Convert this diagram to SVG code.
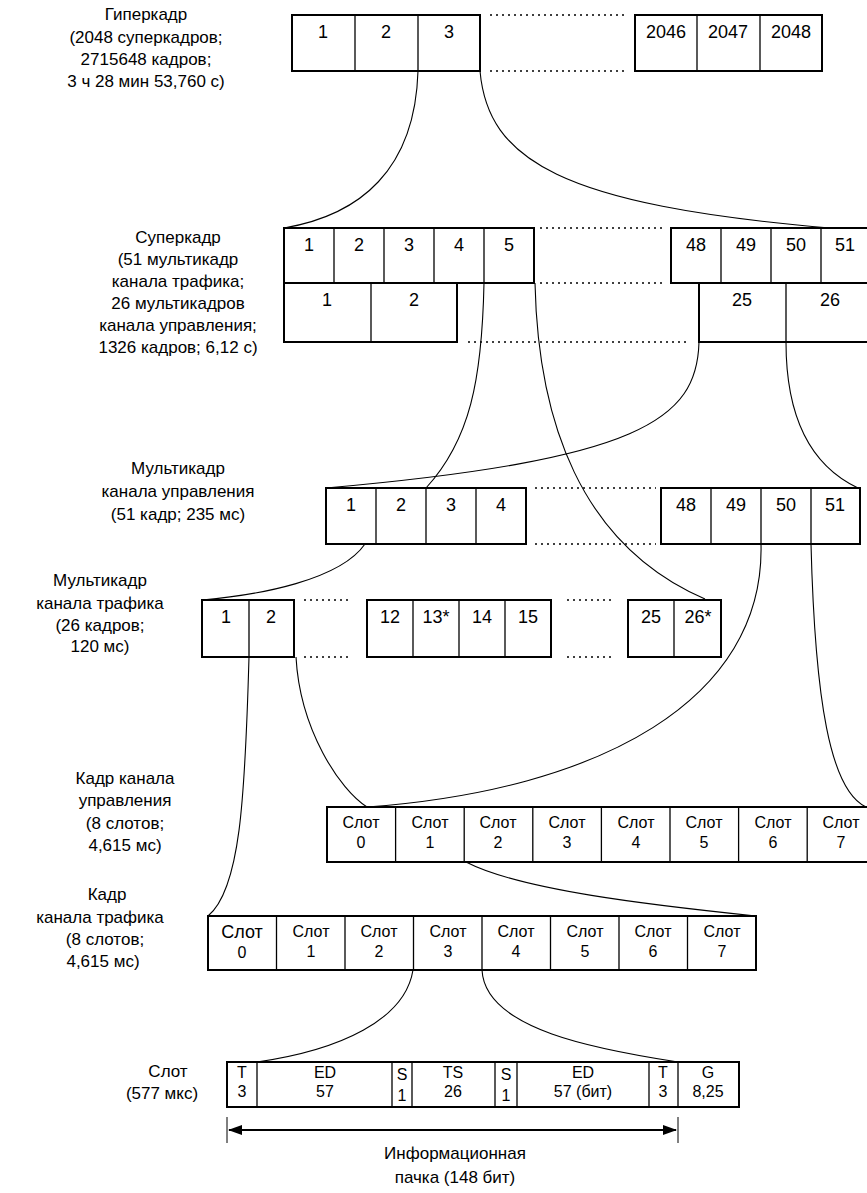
<svg xmlns="http://www.w3.org/2000/svg" width="867" height="1193" viewBox="0 0 867 1193">
<style>
text{font-family:"Liberation Sans",Arial,sans-serif;fill:#000}
.lbl{font-size:17px;text-anchor:middle}
.num{font-size:18px;text-anchor:middle}
.sl{font-size:16px;text-anchor:middle}
.box{fill:#fff;stroke:#000;stroke-width:2}
.div{stroke:#000;stroke-width:1.3}
.dot{stroke:#000;stroke-width:1.5;stroke-dasharray:2 4;fill:none}
.cv{fill:none;stroke:#000;stroke-width:1.1}
</style>
<defs>
<marker id="ah" markerWidth="14" markerHeight="10" refX="13" refY="5" orient="auto-start-reverse" markerUnits="userSpaceOnUse">
<path d="M0,0 L14,5 L0,10 Z" fill="#000"/>
</marker>
</defs>
<rect width="867" height="1193" fill="#fff"/>

<g id="connectors">
<path class="cv" d="M418,71 C415,170 360,215 284,228"/>
<path class="cv" d="M480,71 C488,160 560,205 830,228"/>
<path class="cv" d="M484,283 C482,380 470,440 426,488"/>
<path class="cv" d="M535,283 C538,420 580,545 705,599"/>
<path class="cv" d="M699,342 C697,420 640,460 326,488"/>
<path class="cv" d="M786,342 C786,430 820,470 858,488"/>
<path class="cv" d="M365,544 C340,580 260,595 202,600"/>
<path class="cv" d="M761,544 C765,700 600,790 367,807"/>
<path class="cv" d="M811,544 C815,700 830,790 866,807"/>
<path class="cv" d="M296,657 C300,730 340,790 367,807"/>
<path class="cv" d="M249,657 C245,800 240,890 208,916"/>
<path class="cv" d="M466,862 C520,890 650,905 756,916"/>
<path class="cv" d="M413,970 C405,1020 340,1050 257,1062"/>
<path class="cv" d="M482,970 C485,1030 600,1050 678,1062"/>
</g>

<g id="hyperframe">
<text class="lbl" x="146" y="20">Гиперкадр</text>
<text class="lbl" x="146" y="43">(2048 суперкадров;</text>
<text class="lbl" x="146" y="65">2715648 кадров;</text>
<text class="lbl" x="146" y="87">3 ч 28 мин 53,760 с)</text>
<rect class="box" x="292" y="15" width="188" height="56"/>
<line class="div" x1="355" y1="15" x2="355" y2="71"/>
<line class="div" x1="418" y1="15" x2="418" y2="71"/>
<text class="num" x="323" y="38">1</text>
<text class="num" x="386" y="38">2</text>
<text class="num" x="449" y="38">3</text>
<line class="dot" x1="490" y1="15" x2="628" y2="15"/>
<line class="dot" x1="490" y1="71" x2="628" y2="71"/>
<rect class="box" x="635" y="15" width="187" height="56"/>
<line class="div" x1="697" y1="15" x2="697" y2="71"/>
<line class="div" x1="760" y1="15" x2="760" y2="71"/>
<text class="num" x="666" y="38">2046</text>
<text class="num" x="728" y="38">2047</text>
<text class="num" x="791" y="38">2048</text>
</g>

<g id="superframe">
<text class="lbl" x="178" y="243">Суперкадр</text>
<text class="lbl" x="178" y="265">(51 мультикадр</text>
<text class="lbl" x="178" y="287">канала трафика;</text>
<text class="lbl" x="178" y="309">26 мультикадров</text>
<text class="lbl" x="178" y="331">канала управления;</text>
<text class="lbl" x="178" y="353">1326 кадров; 6,12 с)</text>
<rect class="box" x="284" y="228" width="250" height="55"/>
<line class="div" x1="334" y1="228" x2="334" y2="283"/>
<line class="div" x1="384" y1="228" x2="384" y2="283"/>
<line class="div" x1="434" y1="228" x2="434" y2="283"/>
<line class="div" x1="484" y1="228" x2="484" y2="283"/>
<text class="num" x="309" y="251">1</text>
<text class="num" x="359" y="251">2</text>
<text class="num" x="409" y="251">3</text>
<text class="num" x="459" y="251">4</text>
<text class="num" x="509" y="251">5</text>
<rect class="box" x="671" y="228" width="210" height="55"/>
<line class="div" x1="721" y1="228" x2="721" y2="283"/>
<line class="div" x1="771" y1="228" x2="771" y2="283"/>
<line class="div" x1="821" y1="228" x2="821" y2="283"/>
<text class="num" x="696" y="251">48</text>
<text class="num" x="746" y="251">49</text>
<text class="num" x="796" y="251">50</text>
<text class="num" x="845" y="251">51</text>
<rect class="box" x="284" y="283" width="173" height="59"/>
<line class="div" x1="371" y1="283" x2="371" y2="342"/>
<text class="num" x="327" y="306">1</text>
<text class="num" x="414" y="306">2</text>
<rect class="box" x="699" y="283" width="182" height="59"/>
<line class="div" x1="786" y1="283" x2="786" y2="342"/>
<text class="num" x="742" y="306">25</text>
<text class="num" x="830" y="306">26</text>
<line class="dot" x1="540" y1="228" x2="662" y2="228"/>
<line class="dot" x1="540" y1="283" x2="662" y2="283"/>
<line class="dot" x1="468" y1="342" x2="690" y2="342"/>
</g>

<g id="control-multiframe">
<text class="lbl" x="178" y="474">Мультикадр</text>
<text class="lbl" x="178" y="497">канала управления</text>
<text class="lbl" x="178" y="520">(51 кадр; 235 мс)</text>
<rect class="box" x="326" y="488" width="200" height="56"/>
<line class="div" x1="376" y1="488" x2="376" y2="544"/>
<line class="div" x1="426" y1="488" x2="426" y2="544"/>
<line class="div" x1="476" y1="488" x2="476" y2="544"/>
<text class="num" x="351" y="511">1</text>
<text class="num" x="401" y="511">2</text>
<text class="num" x="451" y="511">3</text>
<text class="num" x="501" y="511">4</text>
<rect class="box" x="661" y="488" width="199" height="56"/>
<line class="div" x1="711" y1="488" x2="711" y2="544"/>
<line class="div" x1="761" y1="488" x2="761" y2="544"/>
<line class="div" x1="811" y1="488" x2="811" y2="544"/>
<text class="num" x="686" y="511">48</text>
<text class="num" x="736" y="511">49</text>
<text class="num" x="786" y="511">50</text>
<text class="num" x="835" y="511">51</text>
<line class="dot" x1="535" y1="488" x2="656" y2="488"/>
<line class="dot" x1="535" y1="544" x2="656" y2="544"/>
</g>

<g id="traffic-multiframe">
<text class="lbl" x="100" y="586">Мультикадр</text>
<text class="lbl" x="100" y="609">канала трафика</text>
<text class="lbl" x="100" y="631">(26 кадров;</text>
<text class="lbl" x="100" y="652">120 мс)</text>
<rect class="box" x="202" y="600" width="92" height="57"/>
<line class="div" x1="249" y1="600" x2="249" y2="657"/>
<text class="num" x="226" y="623">1</text>
<text class="num" x="271" y="623">2</text>
<rect class="box" x="367" y="600" width="184" height="57"/>
<line class="div" x1="413" y1="600" x2="413" y2="657"/>
<line class="div" x1="459" y1="600" x2="459" y2="657"/>
<line class="div" x1="505" y1="600" x2="505" y2="657"/>
<text class="num" x="390" y="623">12</text>
<text class="num" x="436" y="623">13*</text>
<text class="num" x="482" y="623">14</text>
<text class="num" x="528" y="623">15</text>
<rect class="box" x="628" y="600" width="93" height="57"/>
<line class="div" x1="674" y1="600" x2="674" y2="657"/>
<text class="num" x="651" y="623">25</text>
<text class="num" x="698" y="623">26*</text>
<line class="dot" x1="304" y1="600" x2="348" y2="600"/>
<line class="dot" x1="304" y1="657" x2="348" y2="657"/>
<line class="dot" x1="567" y1="600" x2="615" y2="600"/>
<line class="dot" x1="567" y1="657" x2="615" y2="657"/>
</g>

<g id="control-frame">
<text class="lbl" x="125" y="784">Кадр канала</text>
<text class="lbl" x="125" y="806">управления</text>
<text class="lbl" x="125" y="829">(8 слотов;</text>
<text class="lbl" x="125" y="851">4,615 мс)</text>
<rect class="box" x="327" y="807" width="549" height="55"/>
<line class="div" x1="395.6" y1="807" x2="395.6" y2="862"/>
<line class="div" x1="464.2" y1="807" x2="464.2" y2="862"/>
<line class="div" x1="532.8" y1="807" x2="532.8" y2="862"/>
<line class="div" x1="601.4" y1="807" x2="601.4" y2="862"/>
<line class="div" x1="670" y1="807" x2="670" y2="862"/>
<line class="div" x1="738.6" y1="807" x2="738.6" y2="862"/>
<line class="div" x1="807.2" y1="807" x2="807.2" y2="862"/>
<text class="sl" x="361" y="828">Слот</text><text class="sl" x="361" y="848">0</text>
<text class="sl" x="430" y="828">Слот</text><text class="sl" x="430" y="848">1</text>
<text class="sl" x="498" y="828">Слот</text><text class="sl" x="498" y="848">2</text>
<text class="sl" x="567" y="828">Слот</text><text class="sl" x="567" y="848">3</text>
<text class="sl" x="636" y="828">Слот</text><text class="sl" x="636" y="848">4</text>
<text class="sl" x="704" y="828">Слот</text><text class="sl" x="704" y="848">5</text>
<text class="sl" x="773" y="828">Слот</text><text class="sl" x="773" y="848">6</text>
<text class="sl" x="841" y="828">Слот</text><text class="sl" x="841" y="848">7</text>
</g>

<g id="traffic-frame">
<text class="lbl" x="107" y="900">Кадр</text>
<text class="lbl" x="100" y="923">канала трафика</text>
<text class="lbl" x="105" y="945">(8 слотов;</text>
<text class="lbl" x="103" y="967">4,615 мс)</text>
<rect class="box" x="208" y="916" width="548" height="54"/>
<line class="div" x1="276.5" y1="916" x2="276.5" y2="970"/>
<line class="div" x1="345" y1="916" x2="345" y2="970"/>
<line class="div" x1="413.5" y1="916" x2="413.5" y2="970"/>
<line class="div" x1="482" y1="916" x2="482" y2="970"/>
<line class="div" x1="550.5" y1="916" x2="550.5" y2="970"/>
<line class="div" x1="619" y1="916" x2="619" y2="970"/>
<line class="div" x1="687.5" y1="916" x2="687.5" y2="970"/>
<text class="lbl" x="242" y="938" style="font-size:18px">Слот</text><text class="sl" x="242" y="958">0</text>
<text class="sl" x="311" y="937">Слот</text><text class="sl" x="311" y="957">1</text>
<text class="sl" x="379" y="937">Слот</text><text class="sl" x="379" y="957">2</text>
<text class="sl" x="448" y="937">Слот</text><text class="sl" x="448" y="957">3</text>
<text class="sl" x="516" y="937">Слот</text><text class="sl" x="516" y="957">4</text>
<text class="sl" x="585" y="937">Слот</text><text class="sl" x="585" y="957">5</text>
<text class="sl" x="653" y="937">Слот</text><text class="sl" x="653" y="957">6</text>
<text class="sl" x="722" y="937">Слот</text><text class="sl" x="722" y="957">7</text>
</g>

<g id="slot">
<text class="lbl" x="168" y="1077">Слот</text>
<text class="lbl" x="162" y="1099">(577 мкс)</text>
<rect class="box" x="227" y="1062" width="512" height="45"/>
<line class="div" x1="257" y1="1062" x2="257" y2="1107"/>
<line class="div" x1="392" y1="1062" x2="392" y2="1107"/>
<line class="div" x1="412" y1="1062" x2="412" y2="1107"/>
<line class="div" x1="495" y1="1062" x2="495" y2="1107"/>
<line class="div" x1="517" y1="1062" x2="517" y2="1107"/>
<line class="div" x1="649" y1="1062" x2="649" y2="1107"/>
<line class="div" x1="678" y1="1062" x2="678" y2="1107"/>
<text class="sl" x="242" y="1078">T</text><text class="sl" x="242" y="1097">3</text>
<text class="sl" x="325" y="1078">ED</text><text class="sl" x="325" y="1097">57</text>
<text class="sl" x="402" y="1080">S</text><text class="sl" x="402" y="1101">1</text>
<text class="sl" x="453" y="1078">TS</text><text class="sl" x="453" y="1097">26</text>
<text class="sl" x="506" y="1080">S</text><text class="sl" x="506" y="1101">1</text>
<text class="sl" x="583" y="1078">ED</text><text class="sl" x="583" y="1097">57 (бит)</text>
<text class="sl" x="663" y="1078">T</text><text class="sl" x="663" y="1097">3</text>
<text class="sl" x="708" y="1078">G</text><text class="sl" x="708" y="1097">8,25</text>
<line x1="227" y1="1117" x2="227" y2="1143" stroke="#000" stroke-width="1"/>
<line x1="678" y1="1117" x2="678" y2="1143" stroke="#000" stroke-width="1"/>
<line x1="229" y1="1130" x2="676" y2="1130" stroke="#000" stroke-width="1.8" marker-start="url(#ah)" marker-end="url(#ah)"/>
<text class="lbl" x="455" y="1159">Информационная</text>
<text class="lbl" x="455" y="1183">пачка (148 бит)</text>
</g>
</svg>
